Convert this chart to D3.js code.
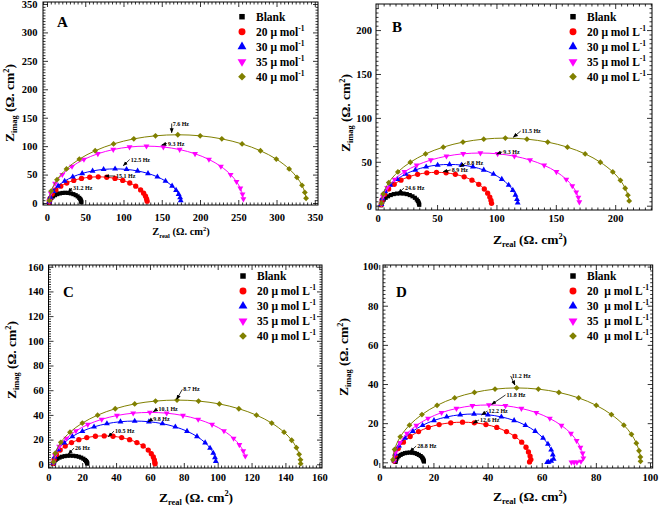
<!DOCTYPE html>
<html><head><meta charset="utf-8">
<script src="https://cdn.jsdelivr.net/npm/d3@7"></script>
<style>
body{margin:0;background:#fff}
svg text{font-family:"Liberation Serif","Times New Roman",serif;font-weight:bold}
</style>
</head><body>
<svg id="c" width="660" height="507"></svg>
<script>
// ---------------- DATA ----------------
const seriesColors = ["#000000", "#ff0000", "#0000ff", "#ff00ff", "#808000"];
const seriesShapes = ["square", "circle", "up", "down", "diamond"];

const legendA = [["Blank",""],["20 \u03bc mol","-1"],["30 \u03bc mol","-1"],["35 \u03bc mol","-1"],["40 \u03bc mol","-1"]];
const legendBC = [["Blank",""],["20 \u03bc mol L","-1"],["30 \u03bc mol L","-1"],["35 \u03bc mol L","-1"],["40 \u03bc mol L","-1"]];
const legendD = [["Blank",""],["20  \u03bc mol L","-1"],["30  \u03bc mol L","-1"],["35  \u03bc mol L","-1"],["40  \u03bc mol L","-1"]];

const ticksA = [0,50,100,150,200,250,300,350];
const ticksB = [0,50,100,150,200];
const ticksC = [0,20,40,60,80,100,120,140,160];
const ticksD = [0,20,40,60,80,100];

// Panel A
const A_blank = [[3.0,0.6],[3.3,3.1],[4.3,6.2],[5.8,9.0],[7.9,11.6],[10.5,13.8],[13.5,15.6],[16.8,16.9],[20.3,17.7],[24,18],[27.7,17.7],[31.2,16.9],[34.5,15.6],[37.5,13.8],[40.1,11.6],[42.2,9.0],[43.5,6.8],[44.3,4.7],[44.7,2.8],[45.0,1.3]];
const A_c20 = [[3.0,1.6],[4.0,8.0],[6.8,15.7],[11.6,23.0],[18.0,29.6],[25.8,35.2],[35.0,39.8],[45.1,43.2],[55.9,45.3],[67,46],[78.1,45.3],[88.9,43.2],[99.0,39.8],[108.2,35.2],[116.0,29.6],[122.4,23.0],[126.3,17.3],[128.8,11.9],[130.2,7.2],[130.9,3.2]];
const A_c30 = [[3.0,2.1],[4.3,10.4],[8.2,20.5],[14.5,30.0],[23.1,38.6],[33.7,46.0],[46.0,52.0],[59.6,56.4],[74.0,59.1],[89,60],[104.0,59.1],[118.4,56.4],[132.0,52.0],[144.3,46.0],[154.9,38.6],[163.5,30.0],[168.7,22.5],[172.1,15.5],[174.0,9.4],[174.8,4.2]];
const A_c35 = [[3.0,3.5],[4.9,17.4],[10.6,34.2],[20.0,50.0],[32.7,64.3],[48.3,76.6],[66.5,86.6],[86.6,94.0],[107.9,98.5],[130,100],[152.1,98.5],[173.4,94.0],[193.5,86.6],[211.7,76.6],[227.3,64.3],[240.0,50.0],[247.7,37.5],[252.7,25.9],[255.5,15.6],[256.7,7.0]];
const A_c40 = [[3.1,4.2],[5.5,20.9],[13.1,41.0],[25.5,60.0],[42.3,77.2],[63.0,91.9],[87.0,103.9],[113.5,112.8],[141.8,118.2],[171,120],[200.2,118.2],[228.5,112.8],[255.0,103.9],[279.0,91.9],[299.7,77.2],[316.5,60.0],[326.7,45.0],[333.3,31.1],[337.0,18.7],[338.6,8.4]];
const hzA = [["7.6 Hz",163,123.6,164.3,136.3],["9.3 Hz",150,102,158.2,101.1],["12.5 Hz",99.7,65.6,109.4,73],["15.1 Hz",75.8,47.5,90.2,44],["31.2 Hz",27.5,18.8,34,22.9]];

// Panel B
const B_blank = [[3.0,0.5],[3.2,2.4],[4.0,4.8],[5.1,7.0],[6.7,9.0],[8.7,10.7],[11.0,12.1],[13.5,13.2],[16.2,13.8],[19,14],[21.8,13.8],[24.5,13.2],[27.0,12.1],[29.3,10.7],[31.3,9.0],[32.9,7.0],[33.8,5.3],[34.5,3.6],[34.8,2.2],[35.0,1.0]];
const B_c20 = [[3.0,1.3],[3.7,6.6],[5.8,13.0],[9.2,19.0],[13.9,24.4],[19.6,29.1],[26.2,32.9],[33.6,35.7],[41.4,37.4],[49.5,38],[57.6,37.4],[65.4,35.7],[72.8,32.9],[79.4,29.1],[85.1,24.4],[89.8,19.0],[92.6,14.3],[94.4,9.8],[95.4,5.9],[95.9,2.7]];
const B_c30 = [[3.1,1.6],[3.9,8.2],[6.4,16.1],[10.7,23.5],[16.5,30.2],[23.5,36.0],[31.7,40.7],[40.8,44.2],[50.5,46.3],[60.5,47],[70.5,46.3],[80.2,44.2],[89.3,40.7],[97.5,36.0],[104.5,30.2],[110.3,23.5],[113.8,17.6],[116.0,12.2],[117.3,7.3],[117.9,3.3]];
const B_c35 = [[3.1,2.1],[4.3,10.4],[8.0,20.5],[14.2,30.0],[22.5,38.6],[32.8,46.0],[44.7,52.0],[57.9,56.4],[72.0,59.1],[86.5,60],[101.0,59.1],[115.1,56.4],[128.3,52.0],[140.2,46.0],[150.5,38.6],[158.8,30.0],[163.9,22.5],[167.2,15.5],[169.0,9.4],[169.8,4.2]];
const B_c40 = [[3.1,2.7],[4.6,13.4],[9.3,26.3],[17.0,38.5],[27.5,49.5],[40.3,59.0],[55.2,66.7],[71.8,72.4],[89.3,75.8],[107.5,77],[125.7,75.8],[143.2,72.4],[159.8,66.7],[174.7,59.0],[187.5,49.5],[198.0,38.5],[204.4,28.9],[208.4,19.9],[210.7,12.0],[211.8,5.4]];
const hzB = [["24.6 Hz",17.3,14.1,23,17.9],["8.9 Hz",55.2,38.7,62.3,38.4],["8.8 Hz",69.3,44.4,75,46.4],["9.3 Hz",100.2,58.9,105.8,58.9],["11.5 Hz",114.2,77.9,121.3,82.8]];

// Panel C
const C_blank = [[3.0,0.2],[3.2,1.2],[3.6,2.4],[4.3,3.5],[5.3,4.5],[6.6,5.4],[8.0,6.1],[9.6,6.6],[11.3,6.9],[13.0,7.0],[14.7,6.9],[16.4,6.6],[18.0,6.1],[19.4,5.4],[20.7,4.5],[21.7,3.5],[22.3,2.6],[22.7,1.8],[22.9,1.1],[23.0,0.5]];
const C_c20 = [[3.0,0.8],[3.4,4.0],[4.8,7.9],[7.0,11.5],[10.0,14.8],[13.7,17.6],[18.0,19.9],[22.7,21.6],[27.8,22.7],[33.0,23],[38.2,22.7],[43.3,21.6],[48.0,19.9],[52.3,17.6],[56.0,14.8],[59.0,11.5],[60.8,8.6],[62.0,6.0],[62.6,3.6],[62.9,1.6],[63.0,0.4]];
const C_c30 = [[3.0,1.2],[3.7,6.1],[5.9,12.0],[9.4,17.5],[14.2,22.5],[20.1,26.8],[27.0,30.3],[34.6,32.9],[42.6,34.5],[51.0,35],[59.4,34.5],[67.4,32.9],[75.0,30.3],[81.9,26.8],[87.8,22.5],[92.6,17.5],[95.5,13.1],[97.4,9.1],[98.4,5.5],[98.9,2.5]];
const C_c35 = [[3.1,1.5],[3.9,7.3],[6.4,14.4],[10.6,21.0],[16.3,27.0],[23.3,32.2],[31.5,36.4],[40.5,39.5],[50.1,41.4],[60,42],[69.9,41.4],[79.5,39.5],[88.5,36.4],[96.7,32.2],[103.7,27.0],[109.4,21.0],[112.8,15.8],[115.1,10.9],[116.3,6.6]];
const C_c40 = [[3.1,1.8],[4.1,9.0],[7.4,17.8],[12.8,26.0],[20.1,33.4],[29.1,39.8],[39.5,45.0],[51.0,48.9],[63.3,51.2],[76,52],[88.7,51.2],[101.0,48.9],[112.5,45.0],[122.9,39.8],[131.9,33.4],[139.2,26.0],[143.7,19.5],[146.5,13.5],[148.1,8.1],[148.9,3.6],[149.0,0.5]];
const hzC = [["26 Hz",11.8,8.3,15.8,11.6],["10.5 Hz",35.4,22.3,39.4,25.3],["9.8 Hz",59,34.5,62,35],["10.1 Hz",62,42.6,65,43.2],["8.7 Hz",75.8,52.6,79.7,59]];

// Panel D
const D_blank = [[6.0,0.2],[6.1,0.9],[6.3,1.7],[6.7,2.5],[7.2,3.2],[7.9,3.8],[8.6,4.3],[9.5,4.7],[10.3,4.9],[11.25,5],[12.2,4.9],[13.1,4.7],[13.9,4.3],[14.6,3.8],[15.3,3.2],[15.8,2.5],[16.1,1.9],[16.3,1.3],[16.4,0.8],[16.5,0.4]];
const D_c20 = [[5.5,0.7],[5.9,3.6],[7.0,7.0],[8.9,10.3],[11.4,13.2],[14.5,15.7],[18.1,17.8],[22.1,19.3],[26.4,20.2],[30.75,20.5],[35.1,20.2],[39.4,19.3],[43.4,17.8],[47.0,15.7],[50.1,13.2],[52.6,10.3],[54.2,7.7],[55.1,5.3],[55.7,3.2],[56.0,1.4],[55.5,0.2]];
const D_c30 = [[5.5,0.9],[5.9,4.3],[7.3,8.4],[9.5,12.4],[12.4,15.9],[16.0,18.9],[20.2,21.4],[24.9,23.2],[29.9,24.3],[35,24.7],[40.1,24.3],[45.1,23.2],[49.8,21.4],[54.0,18.9],[57.6,15.9],[60.5,12.4],[62.3,9.3],[63.5,6.4],[64.1,3.9],[64.4,1.7],[63.5,0.6],[62.5,0.1],[62,0]];
const D_c35 = [[5.5,1.0],[6.0,5.1],[7.6,10.0],[10.2,14.7],[13.7,18.8],[18.0,22.4],[23.0,25.4],[28.5,27.5],[34.4,28.9],[40.5,29.3],[46.6,28.9],[52.5,27.5],[58.0,25.4],[63.0,22.4],[67.3,18.8],[70.8,14.7],[72.9,11.0],[74.3,7.6],[75.1,4.6],[75.4,2.1],[74.5,0.5],[73,0],[72,0],[71,0]];
const D_c40 = [[5.05,1.3],[5.65,6.6],[7.75,13.0],[11.15,19.0],[15.75,24.4],[21.35,29.1],[27.85,32.9],[35.15,35.7],[42.75,37.4],[50.75,38],[58.75,37.4],[66.35,35.7],[73.65,32.9],[80.15,29.1],[85.75,24.4],[90.35,19.0],[93.15,14.3],[94.95,9.8],[95.95,5.9],[96.45,2.7],[96.5,0.5]];
const hzD = [["28.8 Hz",11.3,5.4,14,7.3],["12.6 Hz",34.7,19.9,37.2,20.6],["12.2 Hz",37.8,24.2,40.3,25.2],["11.8 Hz",41.5,29.6,47,33.4],["11.2 Hz",50.1,39.5,48.9,43.1]];

// ---------------- LAYOUT ----------------
const panels = [
  {letter:"A", l:43, t:2, r:318, b:205, xDom:[-5.2,354.2], yDom:[-3.5,353.5], ticks:ticksA, minor:5,
   series:[A_blank,A_c20,A_c30,A_c35,A_c40], legend:legendA, hz:hzA,
   xPad:9, yPad:5.5, legX:242, legY:16.7, letX:57, letY:27,
   yTitle:[14,103], xTitle:[181,235], xTitleSize:10.5},
  {letter:"B", l:376, t:4, r:652, b:210, xDom:[-1.43,231], yDom:[-4.9,229.7], ticks:ticksB, minor:5,
   series:[B_blank,B_c20,B_c30,B_c35,B_c40], legend:legendBC, hz:hzB,
   xPad:4.5, yPad:4, legX:573, legY:16.7, letX:392, letY:32,
   yTitle:[350,113], xTitle:[530,244], xTitleSize:13.5},
  {letter:"C", l:48.5, t:265, r:322, b:468, xDom:[0.1,161.6], yDom:[-3,161.4], ticks:ticksC, minor:2,
   series:[C_blank,C_c20,C_c30,C_c35,C_c40], legend:legendBC, hz:hzC,
   xPad:5.5, yPad:4.7, legX:243, legY:276, letX:63, letY:297,
   yTitle:[16,360], xTitle:[196,501.5], xTitleSize:13.5},
  {letter:"D", l:383, t:265, r:652.7, b:468, xDom:[1.37,101], yDom:[-2.9,100.8], ticks:ticksD, minor:2,
   series:[D_blank,D_c20,D_c30,D_c35,D_c40], legend:legendD, hz:hzD,
   xPad:5.5, yPad:4.5, legX:573, legY:276, letX:396, letY:297,
   yTitle:[348,357], xTitle:[530,501], xTitleSize:13.5}
];

const svg = d3.select("#c");
const FONT = "'Liberation Serif','Times New Roman',serif";

svg.append("defs").append("marker")
  .attr("id","arrow").attr("viewBox","0 0 10 10").attr("refX",9).attr("refY",5)
  .attr("markerWidth",5).attr("markerHeight",5).attr("orient","auto-start-reverse")
  .attr("markerUnits","userSpaceOnUse")
  .append("path").attr("d","M0,1 L10,5 L0,9 Z").attr("fill","#000");

function symbolPath(shape, size) {
  const t = {square:d3.symbolSquare, circle:d3.symbolCircle, up:d3.symbolTriangle, down:d3.symbolTriangle, diamond:d3.symbolSquare}[shape];
  return d3.symbol().type(t).size(size)();
}
function symbolRot(shape) {
  return shape === "down" ? " rotate(180)" : (shape === "diamond" ? " rotate(45)" : "");
}

function styleAxis(sel, size) {
  sel.attr("font-family", FONT).attr("font-size", size).attr("font-weight","bold");
  sel.select(".domain").remove();
  sel.selectAll("line").attr("stroke","#000").attr("stroke-width",0.8);
}

function drawPanel(p) {
  const g = svg.append("g");
  const x = d3.scaleLinear().domain(p.xDom).range([p.l, p.r]);
  const y = d3.scaleLinear().domain(p.yDom).range([p.b, p.t]);
  const major = p.ticks;
  const step = major[1]-major[0];
  const minorX = d3.range(Math.ceil(p.xDom[0]/p.minor), Math.floor(p.xDom[1]/p.minor)+1)
      .map(k => k*p.minor).filter(v => Math.abs(v/step - Math.round(v/step)) > 1e-6);
  const minorY = d3.range(Math.ceil(p.yDom[0]/p.minor), Math.floor(p.yDom[1]/p.minor)+1)
      .map(k => k*p.minor).filter(v => Math.abs(v/step - Math.round(v/step)) > 1e-6);

  g.append("g").attr("transform",`translate(0,${p.b})`)
    .call(d3.axisBottom(x).tickValues(major).tickSizeInner(-5).tickSizeOuter(0).tickPadding(p.xPad))
    .call(s => styleAxis(s, 10.5));
  g.append("g").attr("transform",`translate(0,${p.b})`)
    .call(d3.axisBottom(x).tickValues(minorX).tickSizeInner(-2.5).tickSizeOuter(0).tickFormat(""))
    .call(s => styleAxis(s, 10));
  g.append("g").attr("transform",`translate(0,${p.t})`)
    .call(d3.axisTop(x).tickValues(major).tickSizeInner(-5).tickSizeOuter(0).tickFormat(""))
    .call(s => styleAxis(s, 10));
  g.append("g").attr("transform",`translate(0,${p.t})`)
    .call(d3.axisTop(x).tickValues(minorX).tickSizeInner(-2.5).tickSizeOuter(0).tickFormat(""))
    .call(s => styleAxis(s, 10));
  g.append("g").attr("transform",`translate(${p.l},0)`)
    .call(d3.axisLeft(y).tickValues(major).tickSizeInner(-5).tickSizeOuter(0).tickPadding(p.yPad))
    .call(s => styleAxis(s, 10.5));
  g.append("g").attr("transform",`translate(${p.l},0)`)
    .call(d3.axisLeft(y).tickValues(minorY).tickSizeInner(-2.5).tickSizeOuter(0).tickFormat(""))
    .call(s => styleAxis(s, 10));
  g.append("g").attr("transform",`translate(${p.r},0)`)
    .call(d3.axisRight(y).tickValues(major).tickSizeInner(-5).tickSizeOuter(0).tickFormat(""))
    .call(s => styleAxis(s, 10));
  g.append("g").attr("transform",`translate(${p.r},0)`)
    .call(d3.axisRight(y).tickValues(minorY).tickSizeInner(-2.5).tickSizeOuter(0).tickFormat(""))
    .call(s => styleAxis(s, 10));

  g.append("rect").attr("x",p.l).attr("y",p.t).attr("width",p.r-p.l).attr("height",p.b-p.t)
    .attr("fill","none").attr("stroke","#000").attr("stroke-width",1);

  const line = d3.line().x(d => x(d[0])).y(d => y(d[1])).curve(d3.curveCatmullRom);
  p.series.forEach((pts, i) => {
    const col = seriesColors[i], shape = seriesShapes[i];
    const size = i === 0 ? 17 : (shape === "circle" ? 22 : (shape === "diamond" ? 17 : 15));
    const rot = symbolRot(shape);
    g.append("g").selectAll("path").data(pts).join("path")
      .attr("d", symbolPath(shape, size))
      .attr("transform", d => `translate(${x(d[0])},${y(d[1])})${rot}`)
      .attr("fill", col);
    g.append("path").datum(pts).attr("d", line)
      .attr("fill","none").attr("stroke", col).attr("stroke-width", 1);
  });

  p.hz.forEach(h => {
    const [label, tx, ty, lx, ly] = h;
    g.append("line").attr("x1", x(lx)-1).attr("y1", y(ly)-2).attr("x2", x(tx)).attr("y2", y(ty))
      .attr("stroke","#000").attr("stroke-width",0.8).attr("marker-end","url(#arrow)");
    g.append("text").attr("x", x(lx)).attr("y", y(ly)).attr("font-size",6).attr("font-family",FONT)
      .attr("font-weight","bold").text(label);
  });

  p.legend.forEach((lab, i) => {
    const ry = p.legY + i*15;
    const shape = seriesShapes[i];
    const lsize = shape === "square" ? 30 : (shape === "diamond" ? 30 : (shape === "circle" ? 38 : 34));
    g.append("path").attr("d", symbolPath(shape, lsize))
      .attr("transform", `translate(${p.legX},${ry})${symbolRot(shape)}`).attr("fill", seriesColors[i]);
    const t = g.append("text").attr("x", p.legX+14).attr("y", ry+4)
      .attr("font-size", 11.5).attr("font-family",FONT).attr("font-weight","bold")
      .style("white-space","pre");
    t.append("tspan").text(lab[0]);
    if (lab[1]) t.append("tspan").attr("font-size",7.5).attr("dy",-5).text(lab[1]);
  });

  g.append("text").attr("x",p.letX).attr("y",p.letY).attr("font-size",15).attr("font-family",FONT)
    .attr("font-weight","bold").text(p.letter);

  const mkTitle = (sel, sub, fs) => {
    sel.attr("font-family",FONT).attr("font-weight","bold").attr("font-size",fs).attr("text-anchor","middle");
    sel.append("tspan").text("Z");
    sel.append("tspan").attr("font-size",fs*0.62).attr("dy",fs*0.25).text(sub);
    sel.append("tspan").attr("dy",-fs*0.25).text(" (\u03a9. cm");
    sel.append("tspan").attr("font-size",fs*0.62).attr("dy",-fs*0.4).text("2");
    sel.append("tspan").attr("dy",fs*0.4).text(")");
  };
  mkTitle(g.append("text").attr("transform",`translate(${p.yTitle[0]},${p.yTitle[1]}) rotate(-90)`), "imag", 13.5);
  mkTitle(g.append("text").attr("x",p.xTitle[0]).attr("y",p.xTitle[1]), "real", p.xTitleSize);
}

panels.forEach(drawPanel);
</script>
</body></html>
